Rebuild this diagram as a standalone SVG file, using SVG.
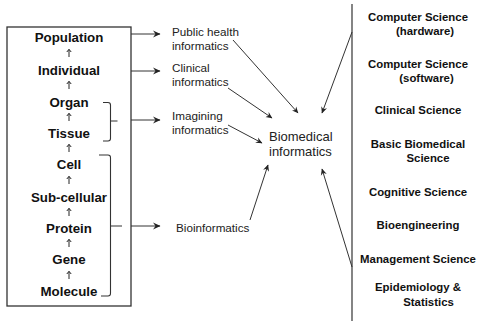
<svg xmlns="http://www.w3.org/2000/svg" width="479" height="323" viewBox="0 0 479 323">
<defs>
<marker id="ah" viewBox="0 0 8 8" refX="7" refY="4" markerWidth="8" markerHeight="8" markerUnits="userSpaceOnUse" orient="auto">
<path d="M0,0.5 L7.5,4 L0,7.5 L2.5,4 Z" fill="#222"/>
</marker>
<marker id="ah2" viewBox="0 0 8 8" refX="7" refY="4" markerWidth="7" markerHeight="7" markerUnits="userSpaceOnUse" orient="auto">
<path d="M0,0.5 L7.5,4 L0,7.5 L2.5,4 Z" fill="#222"/>
</marker>
<path id="up" d="M0,0 V-7.5 M-2.2,-5 L0,-7.7 L2.2,-5" fill="none" stroke="#222" stroke-width="1"/>
</defs>
<style>
.lv{font-family:"Liberation Sans",Arial,sans-serif;font-weight:bold;font-size:13.3px;fill:#111;text-anchor:middle}
.md{font-family:"Liberation Sans",Arial,sans-serif;font-size:11.7px;fill:#222}
.bm{font-family:"Liberation Sans",Arial,sans-serif;font-size:13px;fill:#222}
.rt{font-family:"Liberation Sans",Arial,sans-serif;font-weight:bold;font-size:11.4px;fill:#111;text-anchor:middle}
.ln{stroke:#333;stroke-width:1;fill:none}
.br{stroke:#333;stroke-width:1.1;fill:none}
</style>
<rect width="479" height="323" fill="#fff"/>

<g id="levels">
<rect x="7" y="27" width="124" height="279" fill="none" stroke="#333" stroke-width="1.3"/>
<g id="population"><text class="lv" x="69" y="42">Population</text></g>
<g id="individual"><text class="lv" x="69" y="74.5">Individual</text></g>
<g id="organ"><text class="lv" x="69" y="106.5">Organ</text></g>
<g id="tissue"><text class="lv" x="69" y="137.5">Tissue</text></g>
<g id="cell"><text class="lv" x="69" y="169">Cell</text></g>
<g id="subcellular"><text class="lv" x="69" y="201.5">Sub-cellular</text></g>
<g id="protein"><text class="lv" x="69" y="232.5">Protein</text></g>
<g id="gene"><text class="lv" x="69" y="264">Gene</text></g>
<g id="molecule"><text class="lv" x="69" y="296">Molecule</text></g>
<g id="level-arrows">
<use href="#up" x="69" y="57"/>
<use href="#up" x="69" y="89"/>
<use href="#up" x="69" y="121"/>
<use href="#up" x="69" y="152"/>
<use href="#up" x="69" y="184"/>
<use href="#up" x="69" y="216"/>
<use href="#up" x="69" y="247"/>
<use href="#up" x="69" y="279"/>
</g>
</g>

<g id="brackets">
<path class="br" d="M103,102.5 H108 Q110.5,102.5 110.5,105 V138.5 Q110.5,141 108,141 H103 M110.5,121 H117.5"/>
<path class="br" d="M99,155 H108 Q110.5,155 110.5,157.5 V293.5 Q110.5,296 108,296 H101 M110.5,226 H122"/>
</g>

<g id="public-health"><text class="md" x="172" y="36">Public health</text><text class="md" x="172" y="50">informatics</text></g>
<g id="clinical"><text class="md" x="172" y="71.5">Clinical</text><text class="md" x="172" y="86">informatics</text></g>
<g id="imaging"><text class="md" x="172" y="120">Imagining</text><text class="md" x="172" y="134">informatics</text></g>
<g id="bioinformatics"><text class="md" x="176" y="231.5">Bioinformatics</text></g>
<g id="biomedical"><text class="bm" x="269" y="140.5">Biomedical</text><text class="bm" x="269" y="155.5">informatics</text></g>

<g id="disciplines">
<line x1="352" y1="4" x2="352" y2="321" stroke="#333" stroke-width="1.2"/>
<g id="cs-hw"><text class="rt" x="418" y="21">Computer Science</text><text class="rt" x="425" y="34.5">(hardware)</text></g>
<g id="cs-sw"><text class="rt" x="418" y="67.5">Computer Science</text><text class="rt" x="426.5" y="82">(software)</text></g>
<g id="clin-sci"><text class="rt" x="418" y="114">Clinical Science</text></g>
<g id="basic-bio"><text class="rt" x="418" y="147.5">Basic Biomedical</text><text class="rt" x="428" y="162">Science</text></g>
<g id="cog-sci"><text class="rt" x="418" y="195.5">Cognitive Science</text></g>
<g id="bioeng"><text class="rt" x="418" y="229">Bioengineering</text></g>
<g id="mgmt"><text class="rt" x="418" y="262.5">Management Science</text></g>
<g id="epi"><text class="rt" x="418" y="291">Epidemiology &amp;</text><text class="rt" x="428.5" y="305.5">Statistics</text></g>
</g>

<g id="connectors">
<line class="ln" x1="131" y1="34" x2="160" y2="34" marker-end="url(#ah)"/>
<line class="ln" x1="131" y1="71" x2="160" y2="71" marker-end="url(#ah)"/>
<line class="ln" x1="131" y1="120" x2="160" y2="120" marker-end="url(#ah)"/>
<line class="ln" x1="131" y1="226" x2="160" y2="226" marker-end="url(#ah)"/>
<line class="ln" x1="233" y1="40" x2="298" y2="113" marker-end="url(#ah2)"/>
<line class="ln" x1="228" y1="88" x2="272" y2="118" marker-end="url(#ah2)"/>
<line class="ln" x1="228" y1="125" x2="262" y2="143" marker-end="url(#ah2)"/>
<line class="ln" x1="352" y1="32" x2="322" y2="113" marker-end="url(#ah2)"/>
<line class="ln" x1="250" y1="220" x2="268" y2="165" marker-end="url(#ah2)"/>
<line class="ln" x1="352" y1="267" x2="322" y2="169" marker-end="url(#ah2)"/>
</g>
</svg>
